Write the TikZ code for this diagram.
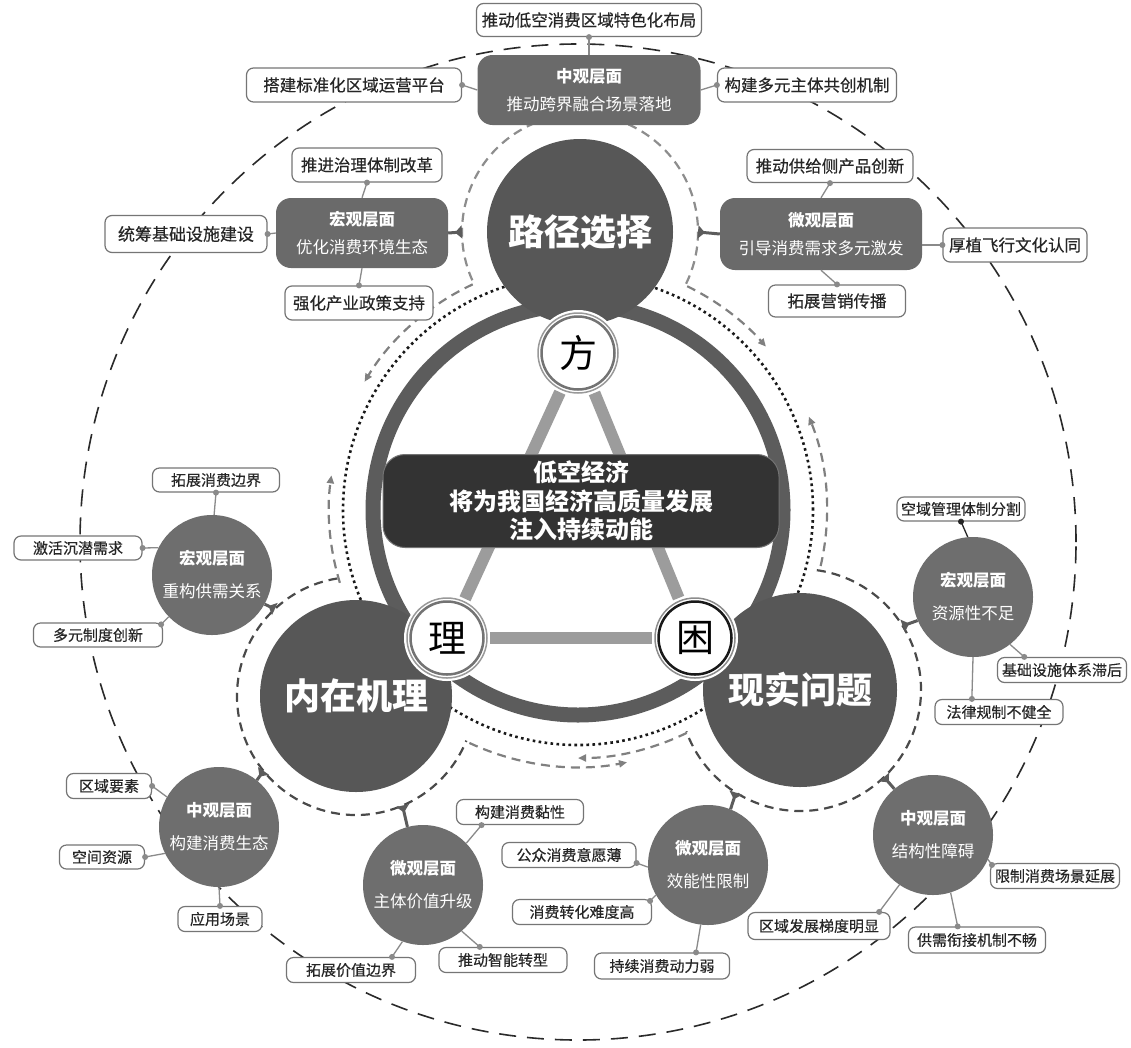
\documentclass[tikz,border=0pt]{standalone}
\usepackage{fontspec}
\newfontfamily\cjk{Noto Sans CJK SC}
\newfontfamily\cjkm{Noto Sans CJK SC}[FakeBold=0.35]
\usetikzlibrary{arrows.meta,calc}
\definecolor{boxgray}{HTML}{6A6A6A}
\definecolor{circgray}{HTML}{6E6E6E}
\definecolor{biggray}{HTML}{575757}
\definecolor{ringgray}{HTML}{5C5C5C}
\definecolor{trigray}{HTML}{9C9C9C}
\definecolor{linegray}{HTML}{8A8A8A}
\definecolor{centerdark}{HTML}{333333}
\definecolor{arcgray}{HTML}{808080}
\definecolor{ringdash}{HTML}{4A4A4A}
\definecolor{outerdash}{HTML}{2A2A2A}
\newcommand\linkdot[3][linegray]{\draw[conn,draw=#1] (#2) -- (#3); \fill[#1] (#3) circle[radius=3pt];}
\tikzset{
 sbox/.style={draw=linegray!85!black, line width=1.2pt, rounded corners=7pt, fill=white, inner sep=0pt, text=black!85, font=\cjkm\fontsize{15}{18}\selectfont},
 tbox/.style={sbox, font=\cjkm\fontsize{16.5}{20}\selectfont},
 dbox/.style={fill=boxgray, rounded corners=15pt, inner sep=0pt, text=white, align=center, font=\cjk\fontsize{16.5}{28}\selectfont},
 scirc/.style={circle, fill=circgray, minimum size=120pt, inner sep=0pt, text=white, align=center, font=\cjk\fontsize{16.5}{33}\selectfont},
 bcirc/.style={circle, fill=biggray, inner sep=0pt, text=white, font=\cjk\bfseries\fontsize{36}{40}\selectfont},
 zcirc/.style={circle, fill=white, inner sep=0pt, minimum size=86pt, font=\cjk\fontsize{38}{40}\selectfont},
 conn/.style={draw=linegray, line width=1.3pt},
 tee/.style={draw=ringgray, line width=3pt, -{Triangle[reversed,length=7pt,width=13pt]}},
 outerline/.style={draw=outerdash, line width=1.6pt, dash pattern=on 17pt off 11pt},
 dotline/.style={draw=black!90, line width=2.6pt, dash pattern=on 2.6pt off 3.4pt},
 circarc/.style={draw=arcgray, line width=2.2pt, dash pattern=on 9pt off 6pt, -{Triangle[length=8pt,width=7pt]}},
 pring/.style={draw=arcgray!90, line width=2.2pt, dash pattern=on 9pt off 6pt},
 nring/.style={draw=ringdash, line width=2.2pt, dash pattern=on 9pt off 6pt}
}
\begin{document}
\begin{tikzpicture}[x=1pt,y=-1pt]
\fill[white] (0,0) rectangle (1131,1047);
\useasboundingbox (0,0) rectangle (1131,1047);
\coordinate (cen) at (578,510);
\coordinate (outc) at (578,542);
\coordinate (P) at (580,232);
\coordinate (N) at (356,696);
\coordinate (X) at (800,690);
% outer dashed circle and dotted circle
\draw[outerline] (outc) circle[radius=498pt];
\draw[dotline] (cen) circle[radius=235pt];
% rings around the three big circles
\draw[pring] ([shift={(-26:118pt)}]P) arc[start angle=-26,end angle=206,radius=118pt];
\draw[nring] ([shift={(99:119pt)}]N) arc[start angle=99,end angle=338,radius=119pt];
\draw[nring] ([shift={(82:121pt)}]X) arc[start angle=82,end angle=-160,radius=121pt];
% circulation arcs
\draw[circarc] ([shift={(115:249pt)}]cen) arc[start angle=115,end angle=149,radius=249pt];
\draw[circarc] ([shift={(64:249pt)}]cen) arc[start angle=64,end angle=41,radius=249pt];
\draw[circarc] ([shift={(197:249pt)}]cen) arc[start angle=197,end angle=172,radius=249pt];
\draw[circarc] ([shift={(-13:249pt)}]cen) arc[start angle=-13,end angle=22,radius=249pt];
\draw[circarc] ([shift={(245:257pt)}]cen) arc[start angle=245,end angle=281,radius=257pt];
\draw[circarc] ([shift={(-64:248pt)}]cen) arc[start angle=-64,end angle=-90,radius=248pt];
% central ring
\draw[ringgray, line width=15pt] (cen) circle[radius=205pt];
% big circles
\node[bcirc, minimum size=186pt] (bP) at (580,232) {路径选择};
\node[bcirc, minimum size=192pt] (bN) at (356,696) {\raisebox{-7pt}{内在机理}};
\node[bcirc, minimum size=194pt] (bX) at (800,690) {\raisebox{-5pt}{现实问题}};
% fang li kun
\node[zcirc] (fang) at (578,353) {方};
\node[zcirc] (li) at (447,638) {理};
\node[zcirc] (kun) at (695,638) {困};
\draw[trigray, line width=12pt] (fang) -- (li);
\draw[trigray, line width=12pt] (fang) -- (kun);
\draw[trigray, line width=12pt] (li) -- (kun);
\draw[black!40, line width=1.5pt] (fang.center) circle[radius=40pt];
\draw[black!55, line width=2.5pt] (fang.center) circle[radius=36.5pt];
\draw[black!40, line width=1.5pt] (li.center) circle[radius=40pt];
\draw[black!55, line width=2.5pt] (li.center) circle[radius=36.5pt];
\draw[black!45, line width=1.5pt] (kun.center) circle[radius=40pt];
\draw[black!90, line width=2.5pt] (kun.center) circle[radius=36.5pt];
% central box
\node[fill=centerdark, draw=black!55, line width=1pt, rounded corners=22pt, minimum width=396pt, minimum height=93pt, inner sep=0pt, text=white, align=center, font=\cjk\bfseries\fontsize{24}{28.5}\selectfont] (core) at (581,501) {低空经济\\将为我国经济高质量发展\\注入持续动能};
% top group
\node[tbox, minimum width=225pt, minimum height=33pt] (tA) at (589,20) {推动低空消费区域特色化布局};
\node[dbox, minimum width=223pt, minimum height=70pt] (tM) at (589,90) {{\bfseries 中观层面}\\推动跨界融合场景落地};
\node[tbox, minimum width=215pt, minimum height=34pt] (tL) at (354,85) {搭建标准化区域运营平台};
\node[tbox, minimum width=179pt, minimum height=34pt] (tR) at (807,85) {构建多元主体共创机制};
% left group
\node[tbox, minimum width=150pt, minimum height=34pt] (lA) at (367,165) {推进治理体制改革};
\node[dbox, minimum width=172pt, minimum height=70pt] (lM) at (362,233) {{\bfseries 宏观层面}\\优化消费环境生态};
\node[tbox, minimum width=162pt, minimum height=37pt, font=\cjkm\fontsize{17}{20}\selectfont] (lL) at (186,234) {统筹基础设施建设};
\node[tbox, minimum width=148pt, minimum height=34pt] (lB) at (359,303) {强化产业政策支持};
% right group
\node[tbox, minimum width=166pt, minimum height=33pt] (rA) at (830,166) {推动供给侧产品创新};
\node[dbox, minimum width=202pt, minimum height=72pt] (rM) at (821,234) {{\bfseries 微观层面}\\引导消费需求多元激发};
\node[tbox, minimum width=144pt, minimum height=34pt] (rR) at (1015,245) {厚植飞行文化认同};
\node[tbox, minimum width=137pt, minimum height=32pt] (rB) at (837,301) {拓展营销传播};
% small circles
\node[scirc] (c1) at (212,575) {{\bfseries 宏观层面}\\重构供需关系};
\node[scirc] (c2) at (219,827) {{\bfseries 中观层面}\\构建消费生态};
\node[scirc] (c3) at (423,885) {{\bfseries 微观层面}\\主体价值升级};
\node[scirc] (c4) at (973,597) {{\bfseries 宏观层面}\\资源性不足};
\node[scirc] (c5) at (708,865) {{\bfseries 微观层面}\\效能性限制};
\node[scirc] (c6) at (933,835) {{\bfseries 中观层面}\\结构性障碍};
% small boxes
\node[sbox, minimum width=127pt, minimum height=24pt] (b11) at (216,480) {拓展消费边界};
\node[sbox, minimum width=128pt, minimum height=24pt] (b12) at (78,548) {激活沉潜需求};
\node[sbox, minimum width=129pt, minimum height=24pt] (b13) at (98,635) {多元制度创新};
\node[sbox, minimum width=85pt, minimum height=25pt] (b21) at (109,786) {区域要素};
\node[sbox, minimum width=85pt, minimum height=24pt] (b22) at (102,857) {空间资源};
\node[sbox, minimum width=84pt, minimum height=25pt] (b23) at (220,919) {应用场景};
\node[sbox, minimum width=127pt, minimum height=25pt] (b31) at (520,812) {构建消费黏性};
\node[sbox, minimum width=129pt, minimum height=25pt] (b32) at (351,970) {拓展价值边界};
\node[sbox, minimum width=128pt, minimum height=25pt] (b33) at (503,960) {推动智能转型};
\node[sbox, minimum width=128pt, minimum height=24pt] (b41) at (961,509) {空域管理体制分割};
\node[sbox, minimum width=129pt, minimum height=25pt] (b42) at (1062,670) {基础设施体系滞后};
\node[sbox, minimum width=128pt, minimum height=25pt] (b43) at (999,712) {法律规制不健全};
\node[sbox, minimum width=134pt, minimum height=25pt] (b51) at (569,855) {公众消费意愿薄};
\node[sbox, minimum width=139pt, minimum height=25pt] (b52) at (582,912) {消费转化难度高};
\node[sbox, minimum width=135pt, minimum height=26pt] (b53) at (662,966) {持续消费动力弱};
\node[sbox, minimum width=129pt, minimum height=25pt] (b61) at (1055,876) {限制消费场景延展};
\node[sbox, minimum width=142pt, minimum height=27pt] (b62) at (819,926) {区域发展梯度明显};
\node[sbox, minimum width=137pt, minimum height=26pt] (b63) at (977,940) {供需衔接机制不畅};
% connectors with dots
\linkdot{tM.north}{tA.south}
\linkdot{tM.west}{tL.east}
\linkdot{tM.east}{tR.west}
\linkdot{lM.north}{lA.south}
\linkdot{lM.west}{lL.east}
\linkdot{lM.south}{lB.north}
\linkdot{rM.north}{rA.south}
\linkdot{rR.west -| rM.east}{rR.west}
\linkdot{rM.south}{rB.north}
\linkdot{c1.88}{b11.south}
\linkdot{c1.153}{b12.east}
\linkdot{c1.224}{[shift={(-2pt,-2pt)}]b13.north east}
\linkdot{c2.150}{b21.east}
\linkdot{c2.206}{b22.east}
\linkdot{c2.south}{b23.north}
\linkdot{c3.44}{$(b31.south west)!0.2!(b31.south east)$}
\linkdot{c3.250}{$(b32.north west)!0.815!(b32.north east)$}
\linkdot{c3.310}{$(b33.north west)!0.32!(b33.north east)$}
\linkdot[black!85]{c4.95}{b41.south}
\linkdot{c4.308}{$(b42.north west)!0.21!(b42.north east)$}
\linkdot{c4.270}{$(b43.north west)!0.29!(b43.north east)$}
\linkdot{c5.182}{[yshift=-8pt]b51.east}
\linkdot{c5.210}{[shift={(-2pt,-2pt)}]b52.north east}
\linkdot{c5.263}{$(b53.north west)!0.75!(b53.north east)$}
\linkdot{c6.336}{[shift={(2pt,-2pt)}]b61.north west}
\linkdot{c6.236}{$(b62.north west)!0.92!(b62.north east)$}
\linkdot{c6.287}{$(b63.north west)!0.36!(b63.north east)$}
% tee connectors to the rings
\draw[tee] (lM.east) -- ([shift={(180:118pt)}]P);
\draw[tee] (rM.west) -- ([shift={(0:118pt)}]P);
\draw[tee] (c1.331) -- ([shift={(133:119pt)}]N);
\draw[tee] (c2.51) -- ([shift={(219:119pt)}]N);
\draw[tee] (c3.105) -- ([shift={(293:119pt)}]N);
\draw[tee] (c4.203) -- ([shift={(32:121pt)}]X);
\draw[tee] (c5.68) -- ([shift={(238:121pt)}]X);
\draw[tee] (c6.130) -- ([shift={(314:121pt)}]X);
\end{tikzpicture}
\end{document}
